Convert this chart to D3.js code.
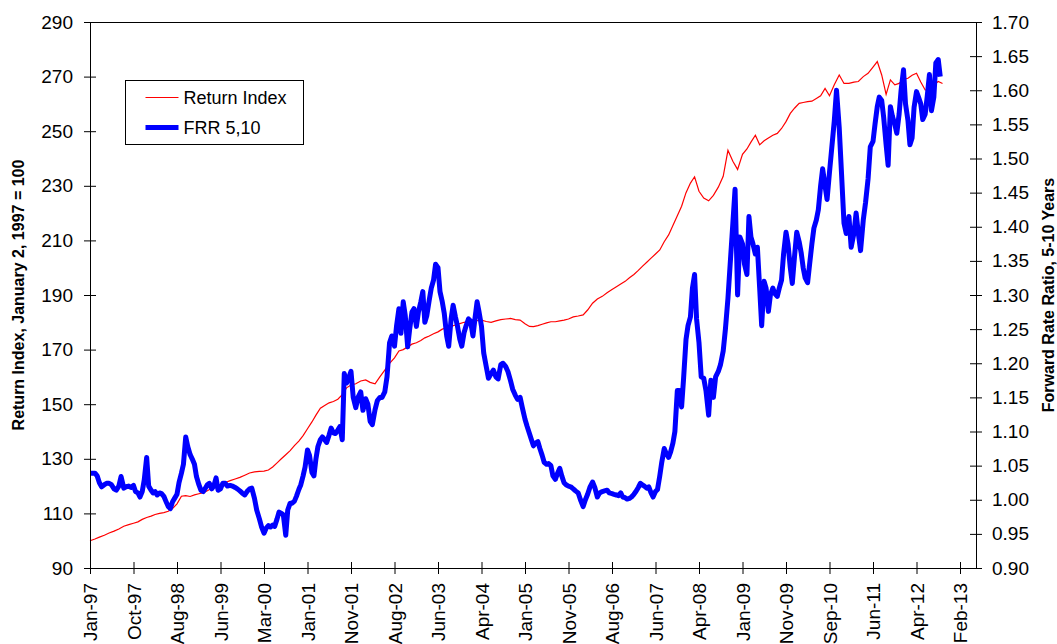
<!DOCTYPE html>
<html>
<head>
<meta charset="utf-8">
<script src="https://cdn.jsdelivr.net/npm/d3@7"></script>
<style>
  body { margin: 0; background: #fff; }
  svg { display: block; font-family: "Liberation Sans", Arial, sans-serif; }
</style>
</head>
<body>
<div class="chart"></div>
<script>
// x axis labels (Excel category axis, labels evenly spaced)
const tickLabels = ["Jan-97", "Oct-97", "Aug-98", "Jun-99", "Mar-00", "Jan-01", "Nov-01",
  "Aug-02", "Jun-03", "Apr-04", "Jan-05", "Nov-05", "Aug-06", "Jun-07", "Apr-08",
  "Jan-09", "Nov-09", "Sep-10", "Jun-11", "Apr-12", "Feb-13"];
const leftTicks = [90, 110, 130, 150, 170, 190, 210, 230, 250, 270, 290];
const rightTicks = [0.90, 0.95, 1.00, 1.05, 1.10, 1.15, 1.20, 1.25, 1.30, 1.35, 1.40,
  1.45, 1.50, 1.55, 1.60, 1.65, 1.70];

// Return Index, monthly, Jan-97 .. Oct-12
const returnIndex = [
  100, 100.6, 101.3, 102, 102.8, 103.5, 104.3, 105.3, 105.9, 106.4, 106.9, 107.8,
  108.5, 109, 109.6, 110, 110.3, 110.8, 111.8, 113.5, 116.3, 116.5, 116.2, 116.8,
  117.2, 117.6, 118.3, 119.2, 120, 120.5, 121.3, 122, 122.6, 123.2, 124, 124.8,
  125.2, 125.4, 125.5, 125.9, 127, 128.5, 130, 131.5, 133, 134.8, 136.5, 138.5,
  141, 143.5, 146, 148.5, 149.5, 150.5, 151, 151.8, 153.5, 156, 157, 157.5,
  158.5, 158.9, 158, 157.5, 160, 162.5, 165, 167, 169.5, 170, 171, 172,
  172.5, 173.3, 174.3, 175, 175.8, 176.5, 177.5, 178, 178.5, 179, 179.5, 180,
  180.3, 180.5, 180.6, 180.8, 180.3, 180, 180.5, 181, 181.2, 181.4, 181, 180.8,
  179.5, 178.5, 178.4, 178.8, 179.3, 179.8, 180.2, 180.2, 180.5, 180.8, 181.2, 182,
  182.3, 182.7, 184.5, 187, 188.5, 189.5, 190.8, 192, 193, 194, 195, 196.3,
  197.5, 199, 200.5, 202, 203.5, 205, 206.5, 209.5, 212, 215.5, 219, 222.5,
  227.5, 231, 233.3, 228, 225.5, 224.5, 226.5, 229.5, 233.5, 243, 239, 236,
  241.5, 243.5, 246, 248.5, 245, 246.5, 247.5, 248.5, 249.2, 251, 253.5, 256.5,
  258.5, 260.2, 260.5, 260.8, 261, 262, 263, 265.7, 263, 267, 270.6, 267.5,
  267.5, 268, 268.2, 270, 271.2, 273.5, 275.5, 270.6, 263.5, 268.8, 267, 267.5,
  269, 269.4, 270.5, 271.2, 268, 265.1, 265.1, 267, 268.2, 267.5
];

// FRR 5,10, twice a month (1st and 15th), Jan-97 .. Sep-12
const frr = [
  1.039, 1.039, 1.039, 1.035, 1.025, 1.019, 1.022, 1.024, 1.024, 1.022, 1.016, 1.014,
  1.020, 1.034, 1.017, 1.019, 1.020, 1.018, 1.021, 1.012, 1.010, 1.004, 1.012, 1.029,
  1.062, 1.020, 1.014, 1.010, 1.012, 1.007, 1.010, 1.009, 1.005, 0.998, 0.990, 0.987,
  0.997, 1.002, 1.008, 1.025, 1.039, 1.052, 1.092, 1.078, 1.066, 1.060, 1.052, 1.034,
  1.022, 1.014, 1.012, 1.017, 1.022, 1.024, 1.016, 1.020, 1.032, 1.014, 1.016, 1.024,
  1.024, 1.020, 1.021, 1.020, 1.018, 1.016, 1.013, 1.010, 1.007, 1.012, 1.016, 1.017,
  1.002, 0.985, 0.972, 0.960, 0.951, 0.958, 0.962, 0.960, 0.963, 0.961, 0.972, 0.982,
  0.980, 0.978, 0.948, 0.985, 0.995, 0.995, 0.998, 1.005, 1.015, 1.022, 1.035, 1.048,
  1.073, 1.065, 1.040, 1.035, 1.060, 1.078, 1.088, 1.092, 1.088, 1.084, 1.095, 1.105,
  1.098, 1.097, 1.102, 1.107, 1.088, 1.185, 1.171, 1.178, 1.188, 1.150, 1.135, 1.150,
  1.158, 1.131, 1.148, 1.140, 1.115, 1.110, 1.132, 1.145, 1.150, 1.150, 1.158, 1.180,
  1.230, 1.240, 1.225, 1.254, 1.280, 1.244, 1.290, 1.270, 1.224, 1.250, 1.275, 1.280,
  1.254, 1.275, 1.290, 1.305, 1.260, 1.270, 1.293, 1.310, 1.322, 1.345, 1.340, 1.305,
  1.290, 1.273, 1.240, 1.225, 1.265, 1.285, 1.268, 1.255, 1.235, 1.225, 1.245, 1.255,
  1.265, 1.262, 1.240, 1.265, 1.290, 1.275, 1.254, 1.215, 1.195, 1.178, 1.185, 1.190,
  1.180, 1.177, 1.198, 1.200, 1.195, 1.188, 1.175, 1.162, 1.153, 1.147, 1.150, 1.135,
  1.118, 1.108, 1.097, 1.088, 1.079, 1.083, 1.085, 1.075, 1.065, 1.055, 1.052, 1.053,
  1.050, 1.035, 1.030, 1.038, 1.046, 1.035, 1.025, 1.022, 1.020, 1.019, 1.016, 1.013,
  1.010, 1.000, 0.990, 1.000, 1.008, 1.018, 1.026, 1.018, 1.004, 1.010, 1.012, 1.013,
  1.014, 1.010, 1.009, 1.008, 1.007, 1.006, 1.010, 1.004, 1.003, 1.001, 1.002, 1.004,
  1.008, 1.012, 1.018, 1.024, 1.022, 1.020, 1.017, 1.019, 1.010, 1.004, 1.012, 1.015,
  1.035, 1.055, 1.075, 1.068, 1.062, 1.070, 1.083, 1.100, 1.160, 1.160, 1.136, 1.178,
  1.235, 1.255, 1.268, 1.310, 1.330, 1.265, 1.230, 1.180, 1.178, 1.160, 1.124, 1.175,
  1.150, 1.180, 1.188, 1.198, 1.218, 1.250, 1.295, 1.345, 1.405, 1.455, 1.300, 1.385,
  1.375, 1.345, 1.330, 1.415, 1.385, 1.375, 1.360, 1.370, 1.310, 1.255, 1.320, 1.310,
  1.276, 1.300, 1.310, 1.302, 1.298, 1.310, 1.322, 1.360, 1.392, 1.375, 1.340, 1.317,
  1.360, 1.392, 1.378, 1.362, 1.340, 1.325, 1.318, 1.345, 1.375, 1.398, 1.410, 1.425,
  1.460, 1.485, 1.460, 1.440, 1.480, 1.515, 1.555, 1.600, 1.545, 1.480, 1.405, 1.390,
  1.415, 1.370, 1.390, 1.420, 1.390, 1.365, 1.410, 1.435, 1.470, 1.517, 1.525, 1.550,
  1.576, 1.590, 1.585, 1.560, 1.520, 1.490, 1.576, 1.562, 1.550, 1.537, 1.565, 1.600,
  1.630, 1.580, 1.556, 1.520, 1.530, 1.575, 1.598, 1.590, 1.580, 1.557, 1.565, 1.590,
  1.623, 1.570, 1.590, 1.640, 1.645, 1.620
];

const W = 1057, H = 644;
const margin = { top: 22, right: 81, bottom: 76, left: 90 },
  width = W - margin.left - margin.right,
  height = H - margin.top - margin.bottom;
const step = 43.5; // px between category labels

const parseLabel = d3.timeParse("%b-%y");
const tickDates = tickLabels.map(parseLabel);

// dates for the series
const riDates = d3.timeMonth.range(new Date(1997, 0, 1), new Date(2012, 10, 1));
const frrDates = [];
d3.timeMonth.range(new Date(1997, 0, 1), new Date(2012, 9, 1)).forEach(m => {
  frrDates.push(m, new Date(m.getFullYear(), m.getMonth(), 15));
});

const riData = riDates.map((d, i) => ({ date: d, value: returnIndex[i] }));
const frrData = frrDates.map((d, i) => ({ date: d, value: frr[i] }));

// piecewise time scale so the labels sit evenly spaced like on the category axis
const x = d3.scaleTime()
  .domain(tickDates)
  .range(tickDates.map((d, i) => i * step));
const yLeft = d3.scaleLinear().domain([90, 290]).range([height, 0]);
const yRight = d3.scaleLinear().domain([0.9, 1.7]).range([height, 0]);

const svg = d3.select(".chart")
  .append("svg")
  .attr("width", W)
  .attr("height", H);

const g = svg.append("g")
  .attr("transform", "translate(" + margin.left + "," + margin.top + ")");

// top border of plot area
g.append("line")
  .attr("x1", 0).attr("x2", width)
  .attr("y1", 0.5).attr("y2", 0.5)
  .attr("stroke", "#000");

// lines
const lineRI = d3.line().x(d => x(d.date)).y(d => yLeft(d.value));
const lineFRR = d3.line().x(d => x(d.date)).y(d => yRight(d.value));

g.append("path")
  .datum(riData)
  .attr("fill", "none")
  .attr("stroke", "#ff0000")
  .attr("stroke-width", 1.2)
  .attr("d", lineRI);

g.append("path")
  .datum(frrData)
  .attr("fill", "none")
  .attr("stroke", "#0000ff")
  .attr("stroke-width", 5)
  .attr("stroke-linejoin", "round")
  .attr("d", lineFRR);

// axes
const fontSize = "19px";

const axL = g.append("g")
  .call(d3.axisLeft(yLeft).tickValues(leftTicks).tickSize(6).tickSizeOuter(0).tickPadding(11));
axL.selectAll(".tick line").attr("x1", 6);

const axR = g.append("g")
  .attr("transform", "translate(" + width + ",0)")
  .call(d3.axisRight(yRight).tickValues(rightTicks).tickSize(6).tickSizeOuter(0)
    .tickPadding(10).tickFormat(d3.format(".2f")));
axR.selectAll(".tick line").attr("x1", -6);

const axB = g.append("g")
  .attr("transform", "translate(0," + height + ")")
  .call(d3.axisBottom(x).tickValues(tickDates).tickSize(6).tickSizeOuter(0)
    .tickFormat(d3.timeFormat("%b-%y")));
axB.select(".domain").attr("d", "M0,0.5H" + width);
axB.selectAll(".tick line").attr("y1", -6);
axB.selectAll(".tick text")
  .attr("transform", "rotate(-90)")
  .attr("x", -15)
  .attr("y", 0)
  .attr("dy", "0.35em")
  .style("text-anchor", "end");

[axL, axR, axB].forEach(a => {
  a.selectAll("text").style("font-size", fontSize).attr("fill", "#000")
    .style("font-family", '"Liberation Sans", Arial, sans-serif');
  a.selectAll("line, path").attr("stroke", "#000");
});

// axis titles
svg.append("text")
  .attr("transform", "translate(18," + (margin.top + height / 2) + ") rotate(-90)")
  .attr("text-anchor", "middle")
  .attr("dominant-baseline", "central")
  .style("font-size", "16px")
  .style("font-weight", "bold")
  .text("Return Index, January 2, 1997 = 100");

svg.append("text")
  .attr("transform", "translate(1048," + (margin.top + height / 2) + ") rotate(-90)")
  .attr("text-anchor", "middle")
  .attr("dominant-baseline", "central")
  .style("font-size", "16px")
  .style("font-weight", "bold")
  .text("Forward Rate Ratio, 5-10 Years");

// legend
const legend = svg.append("g").attr("transform", "translate(125.5,80.5)");
legend.append("rect")
  .attr("width", 178).attr("height", 64)
  .attr("fill", "#fff").attr("stroke", "#000");

const legendItems = [
  { label: "Return Index", color: "#ff0000", w: 1.2 },
  { label: "FRR 5,10", color: "#0000ff", w: 5 }
];
const li = legend.selectAll(".legends")
  .data(legendItems)
  .enter()
  .append("g")
  .attr("transform", (d, i) => "translate(0," + (17 + i * 30) + ")");
li.append("line")
  .attr("x1", 20).attr("x2", 53)
  .attr("stroke", d => d.color)
  .attr("stroke-width", d => d.w);
li.append("text")
  .attr("x", 58)
  .attr("dy", "0.35em")
  .style("font-size", "18px")
  .text(d => d.label);
</script>
</body>
</html>
